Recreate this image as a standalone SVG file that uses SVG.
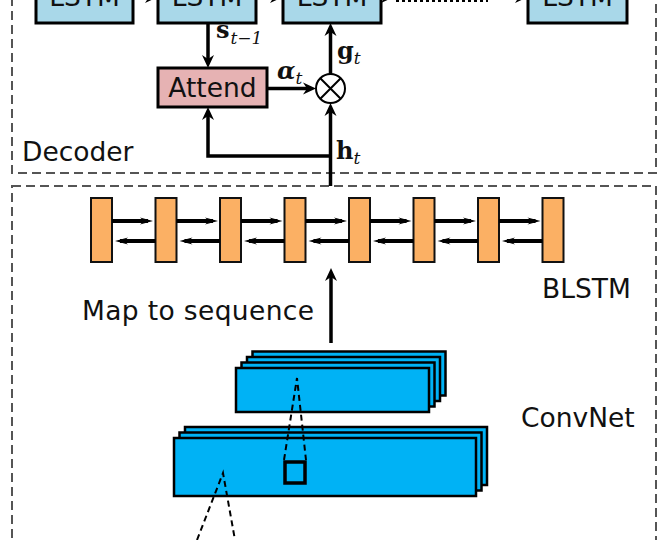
<svg xmlns="http://www.w3.org/2000/svg" width="669" height="540" viewBox="0 0 669 540">
<style>
.lbl{font-family:"DejaVu Sans","Liberation Sans",sans-serif;font-size:26.5px;fill:#111}
.math{font-family:"DejaVu Serif","Liberation Serif",serif;fill:#111}
.b{font-weight:bold;font-size:24px}
.sub{font-style:italic;font-size:17px}
.frame{fill:none;stroke:#555;stroke-width:2;stroke-dasharray:9 5}
.lstm{fill:#a9d8e9;stroke:#000;stroke-width:3}
.att{fill:#e6b2b3;stroke:#000;stroke-width:3}
.bl{fill:#fbb064;stroke:#111;stroke-width:2}
.cv{fill:#00b2f5;stroke:#000;stroke-width:2.5}
.ln{fill:none;stroke:#000;stroke-width:3.5}
.lns{fill:none;stroke:#000;stroke-width:4}
.dsh{fill:none;stroke:#000;stroke-width:2;stroke-dasharray:6 4}
</style>
<defs>
<marker id="ah" viewBox="-14 -7 16 14" refX="-6" refY="0" markerWidth="16" markerHeight="14" markerUnits="userSpaceOnUse" orient="auto">
<path d="M0,0 L-13,-6 L-9,0 L-13,6 Z" fill="#000"/>
</marker>
<marker id="as" viewBox="-14 -5 16 10" refX="-5" refY="0" markerWidth="16" markerHeight="10" markerUnits="userSpaceOnUse" orient="auto">
<path d="M0,0 L-13,-3.5 L-9,0 L-13,3.5 Z" fill="#000"/>
</marker>
</defs>

<rect class="frame" x="12" y="-10" width="644" height="183"/>
<rect class="frame" x="12" y="186" width="644" height="400"/>

<g id="lstm1"><rect class="lstm" x="36" y="-29" width="97" height="52"/><text class="lbl" x="84.5" y="6" text-anchor="middle">LSTM</text></g>
<g id="lstm2"><rect class="lstm" x="158" y="-29" width="98" height="52"/><text class="lbl" x="207" y="6" text-anchor="middle">LSTM</text></g>
<g id="lstm3"><rect class="lstm" x="283" y="-29" width="98" height="52"/><text class="lbl" x="332" y="6" text-anchor="middle">LSTM</text></g>
<g id="lstm4"><rect class="lstm" x="528" y="-29" width="99" height="52"/><text class="lbl" x="577.5" y="6" text-anchor="middle">LSTM</text></g>

<g id="attend"><rect class="att" x="158" y="68" width="109" height="39"/><text class="lbl" x="212.5" y="97" text-anchor="middle">Attend</text></g>

<g id="mult"><circle cx="330.5" cy="88.5" r="14.5" fill="#fff" stroke="#000" stroke-width="2"/>
<path d="M320.3,78.3 L340.7,98.7 M340.7,78.3 L320.3,98.7" stroke="#000" stroke-width="2"/></g>

<g id="labels">
<text class="lbl" x="22" y="161">Decoder</text>
<text class="lbl" x="542" y="298">BLSTM</text>
<text class="lbl" x="82" y="320" textLength="232">Map to sequence</text>
<text class="lbl" x="521" y="427">ConvNet</text>
<text class="math" x="216" y="38"><tspan class="b">s</tspan><tspan class="sub" dy="6" dx="1">t</tspan><tspan class="sub" font-style="normal">−1</tspan></text>
<text class="math" x="277" y="79"><tspan class="b" font-style="italic">α</tspan><tspan class="sub" dy="5">t</tspan></text>
<text class="math" x="337" y="59"><tspan class="b">g</tspan><tspan class="sub" dy="5">t</tspan></text>
<text class="math" x="336" y="159"><tspan class="b">h</tspan><tspan class="sub" dy="5">t</tspan></text>
</g>

<g id="blstm">
<rect class="bl" x="91" y="198" width="21" height="64"/>
<rect class="bl" x="155.5" y="198" width="21" height="64"/>
<rect class="bl" x="220" y="198" width="21" height="64"/>
<rect class="bl" x="284.5" y="198" width="21" height="64"/>
<rect class="bl" x="349" y="198" width="21" height="64"/>
<rect class="bl" x="413.5" y="198" width="21" height="64"/>
<rect class="bl" x="478" y="198" width="21" height="64"/>
<rect class="bl" x="542.5" y="198" width="21" height="64"/>
</g>

<g id="convnet">
<rect class="cv" x="252.5" y="351.5" width="193" height="44"/>
<rect class="cv" x="247" y="357" width="193" height="44"/>
<rect class="cv" x="241.5" y="362.5" width="193" height="44"/>
<rect class="cv" x="236" y="368" width="193" height="44"/>
<rect class="cv" x="185" y="427" width="302" height="58"/>
<rect class="cv" x="179.5" y="432.5" width="302" height="58"/>
<rect class="cv" x="174" y="438" width="302" height="58"/>
<rect x="285" y="462" width="20" height="21" fill="#00b2f5" stroke="#000" stroke-width="3.5"/>
<path class="dsh" d="M284,460 L297,378 L306,460"/>
<path class="dsh" d="M197,540 L223,473 L235,540"/>
</g>

<g id="connectors">
<path class="ln" d="M133,-3 L152,-3" marker-end="url(#ah)"/>
<path class="ln" d="M256,-3 L277,-3" marker-end="url(#ah)"/>
<path class="ln" d="M381,-3 L388,-3" marker-end="url(#ah)"/>
<path d="M396,-1 L488,-1" stroke="#000" stroke-width="6" stroke-dasharray="3 3" fill="none"/>
<path class="ln" d="M490,-3 L522,-3" marker-end="url(#ah)"/>
<path class="ln" d="M208,23 L208,62" marker-end="url(#ah)"/>
<path class="ln" d="M267,88.5 L310,88.5" marker-end="url(#ah)"/>
<path class="ln" d="M330.5,74 L330.5,29" marker-end="url(#ah)"/>
<path class="ln" d="M330.5,186 L330.5,109" marker-end="url(#ah)"/>
<path class="ln" d="M330.5,156 L208,156 L208,113" marker-end="url(#ah)"/>
<path class="ln" d="M331,343 L331,274" marker-end="url(#ah)"/>
<path class="lns" d="M112,221 L148,221" marker-end="url(#as)"/>
<path class="lns" d="M176.5,221 L213,221" marker-end="url(#as)"/>
<path class="lns" d="M241,221 L277.5,221" marker-end="url(#as)"/>
<path class="lns" d="M305.5,221 L342,221" marker-end="url(#as)"/>
<path class="lns" d="M370,221 L406.5,221" marker-end="url(#as)"/>
<path class="lns" d="M434.5,221 L471,221" marker-end="url(#as)"/>
<path class="lns" d="M499,221 L535.5,221" marker-end="url(#as)"/>
<path class="lns" d="M155.5,241 L120,241" marker-end="url(#as)"/>
<path class="lns" d="M220,241 L184.5,241" marker-end="url(#as)"/>
<path class="lns" d="M284.5,241 L249,241" marker-end="url(#as)"/>
<path class="lns" d="M349,241 L313.5,241" marker-end="url(#as)"/>
<path class="lns" d="M413.5,241 L378,241" marker-end="url(#as)"/>
<path class="lns" d="M478,241 L442.5,241" marker-end="url(#as)"/>
<path class="lns" d="M542.5,241 L507,241" marker-end="url(#as)"/>
</g>
</svg>
